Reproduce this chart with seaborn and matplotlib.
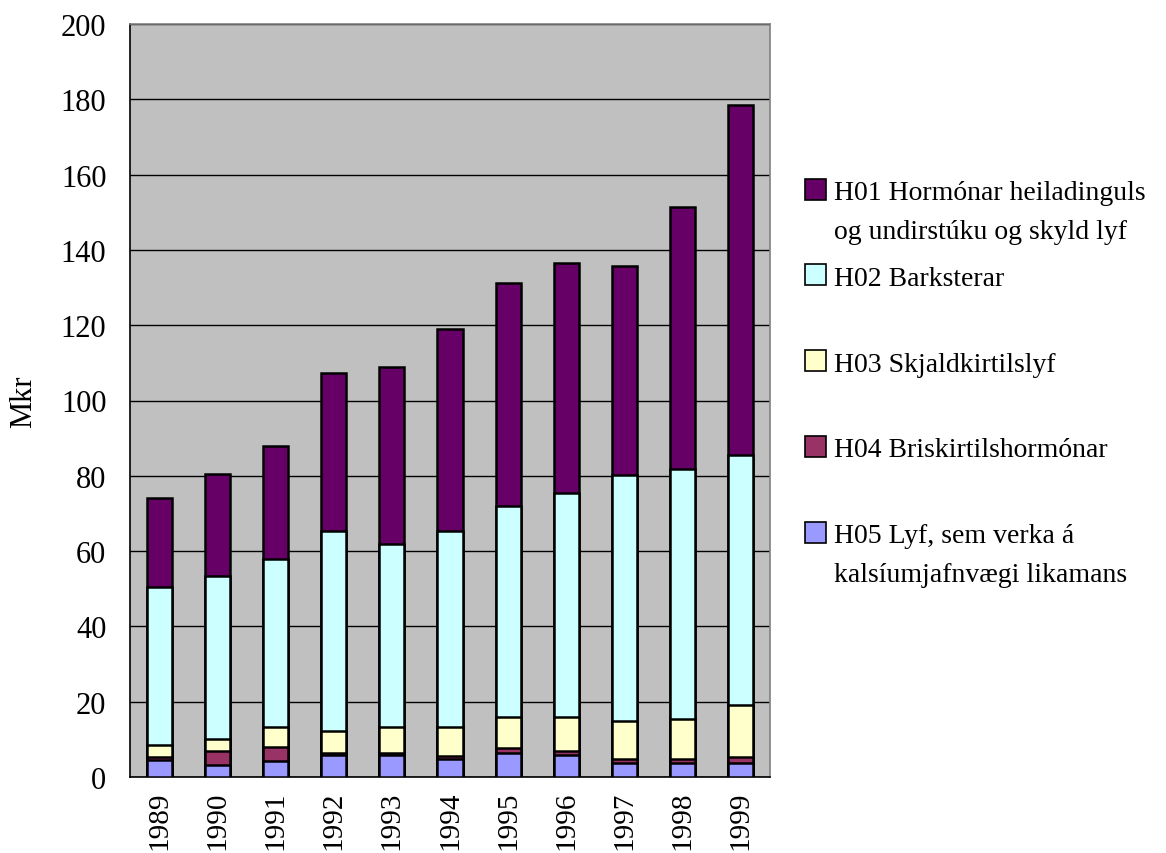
import numpy as np
import pandas as pd
import matplotlib
matplotlib.use("Agg")
import matplotlib.pyplot as plt
from matplotlib.patches import Rectangle
import seaborn as sns

# ── Datos (Mkr)
years = ["1989", "1990", "1991", "1992", "1993", "1994",
         "1995", "1996", "1997", "1998", "1999"]
h05 = [4.5, 3.2, 4.2, 5.8, 5.8, 4.7, 6.3, 5.8, 3.8, 3.8, 3.8]
h04 = [0.7, 3.7, 3.8, 0.5, 0.5, 0.9, 1.5, 1.0, 0.9, 0.9, 1.5]
h03 = [3.3, 3.1, 5.3, 5.9, 7.0, 7.7, 8.1, 9.1, 10.2, 10.6, 13.8]
h02 = [42.0, 43.5, 44.5, 53.1, 48.7, 52.0, 56.2, 59.5, 65.3, 66.5, 66.5]
h01 = [23.5, 26.9, 30.0, 42.0, 46.8, 53.6, 59.0, 61.1, 55.5, 69.7, 92.9]

series_names = [
    "H01 Hormónar heiladinguls\nog undirstúku og skyld lyf",
    "H02 Barksterar",
    "H03 Skjaldkirtilslyf",
    "H04 Briskirtilshormónar",
    "H05 Lyf, sem verka á\nkalsíumjafnvægi likamans",
]
series_colors = ["#660066", "#CCFFFF", "#FFFFCC", "#993366", "#9999FF"]

# ── Stacked: se dibujan acumulados de mayor a menor
stack_bottom_up = [h05, h04, h03, h02, h01]
colors_bottom_up = series_colors[::-1]
cum = np.cumsum(np.array(stack_bottom_up), axis=0)

sns.set_style("white")
plt.rcParams["font.family"] = ["Liberation Serif", "DejaVu Serif"]
plt.rcParams["text.color"] = "black"
plt.rcParams["axes.labelcolor"] = "black"
plt.rcParams["xtick.color"] = "black"
plt.rcParams["ytick.color"] = "black"

fig = plt.figure(figsize=(11.66, 8.54), dpi=100)
ax = fig.add_axes([130 / 1166, 76 / 854, 640 / 1166, 753 / 854])
ax.set_facecolor("#C0C0C0")

for level in range(len(stack_bottom_up) - 1, -1, -1):
    df = pd.DataFrame({"year": years, "value": cum[level]})
    sns.barplot(data=df, x="year", y="value", color=colors_bottom_up[level],
                saturation=1, width=0.43, edgecolor="black", linewidth=1.8,
                ax=ax, zorder=3)

ax.set_ylim(0, 200)
ax.set_xlim(-0.5, len(years) - 0.5)
ax.set_yticks(np.arange(0, 201, 20))
ax.yaxis.grid(True, color="black", linewidth=1.0)
ax.set_axisbelow(True)

# ticks del eje x entre categorías
ax.set_xticks(np.arange(len(years)))
ax.set_xticklabels(years, rotation=90, fontsize=21)
ax.set_xticks(np.arange(-0.5, len(years), 1), minor=True)
ax.tick_params(axis="x", which="major", length=0, pad=10)
ax.tick_params(axis="x", which="minor", length=9, width=1.2, color="black",
               direction="out")
ax.tick_params(axis="y", length=9, width=1.2, color="black", direction="out",
               labelsize=22, pad=8)

ax.set_xlabel("")
ax.set_ylabel("Mkr", fontsize=22, labelpad=16)

for side in ["left", "bottom"]:
    ax.spines[side].set_color("black")
    ax.spines[side].set_linewidth(1.2)
for side in ["top", "right"]:
    ax.spines[side].set_color("#808080")
    ax.spines[side].set_linewidth(1.2)

# ── Leyenda (estilo Excel, entradas equiespaciadas)
W, H = 1166, 854
for i, (name, col) in enumerate(zip(series_names, series_colors)):
    yc = 190 + 85.8 * i
    fig.add_artist(Rectangle((805 / W, 1 - (yc + 10.5) / H), 21 / W, 21 / H,
                             facecolor=col, edgecolor="black", linewidth=1.2,
                             transform=fig.transFigure))
    fig.text(834 / W, 1 - (yc - 9) / H, name, fontsize=20, va="top",
             ha="left", linespacing=1.75)

fig.savefig("out.png", dpi=100, facecolor="white")
